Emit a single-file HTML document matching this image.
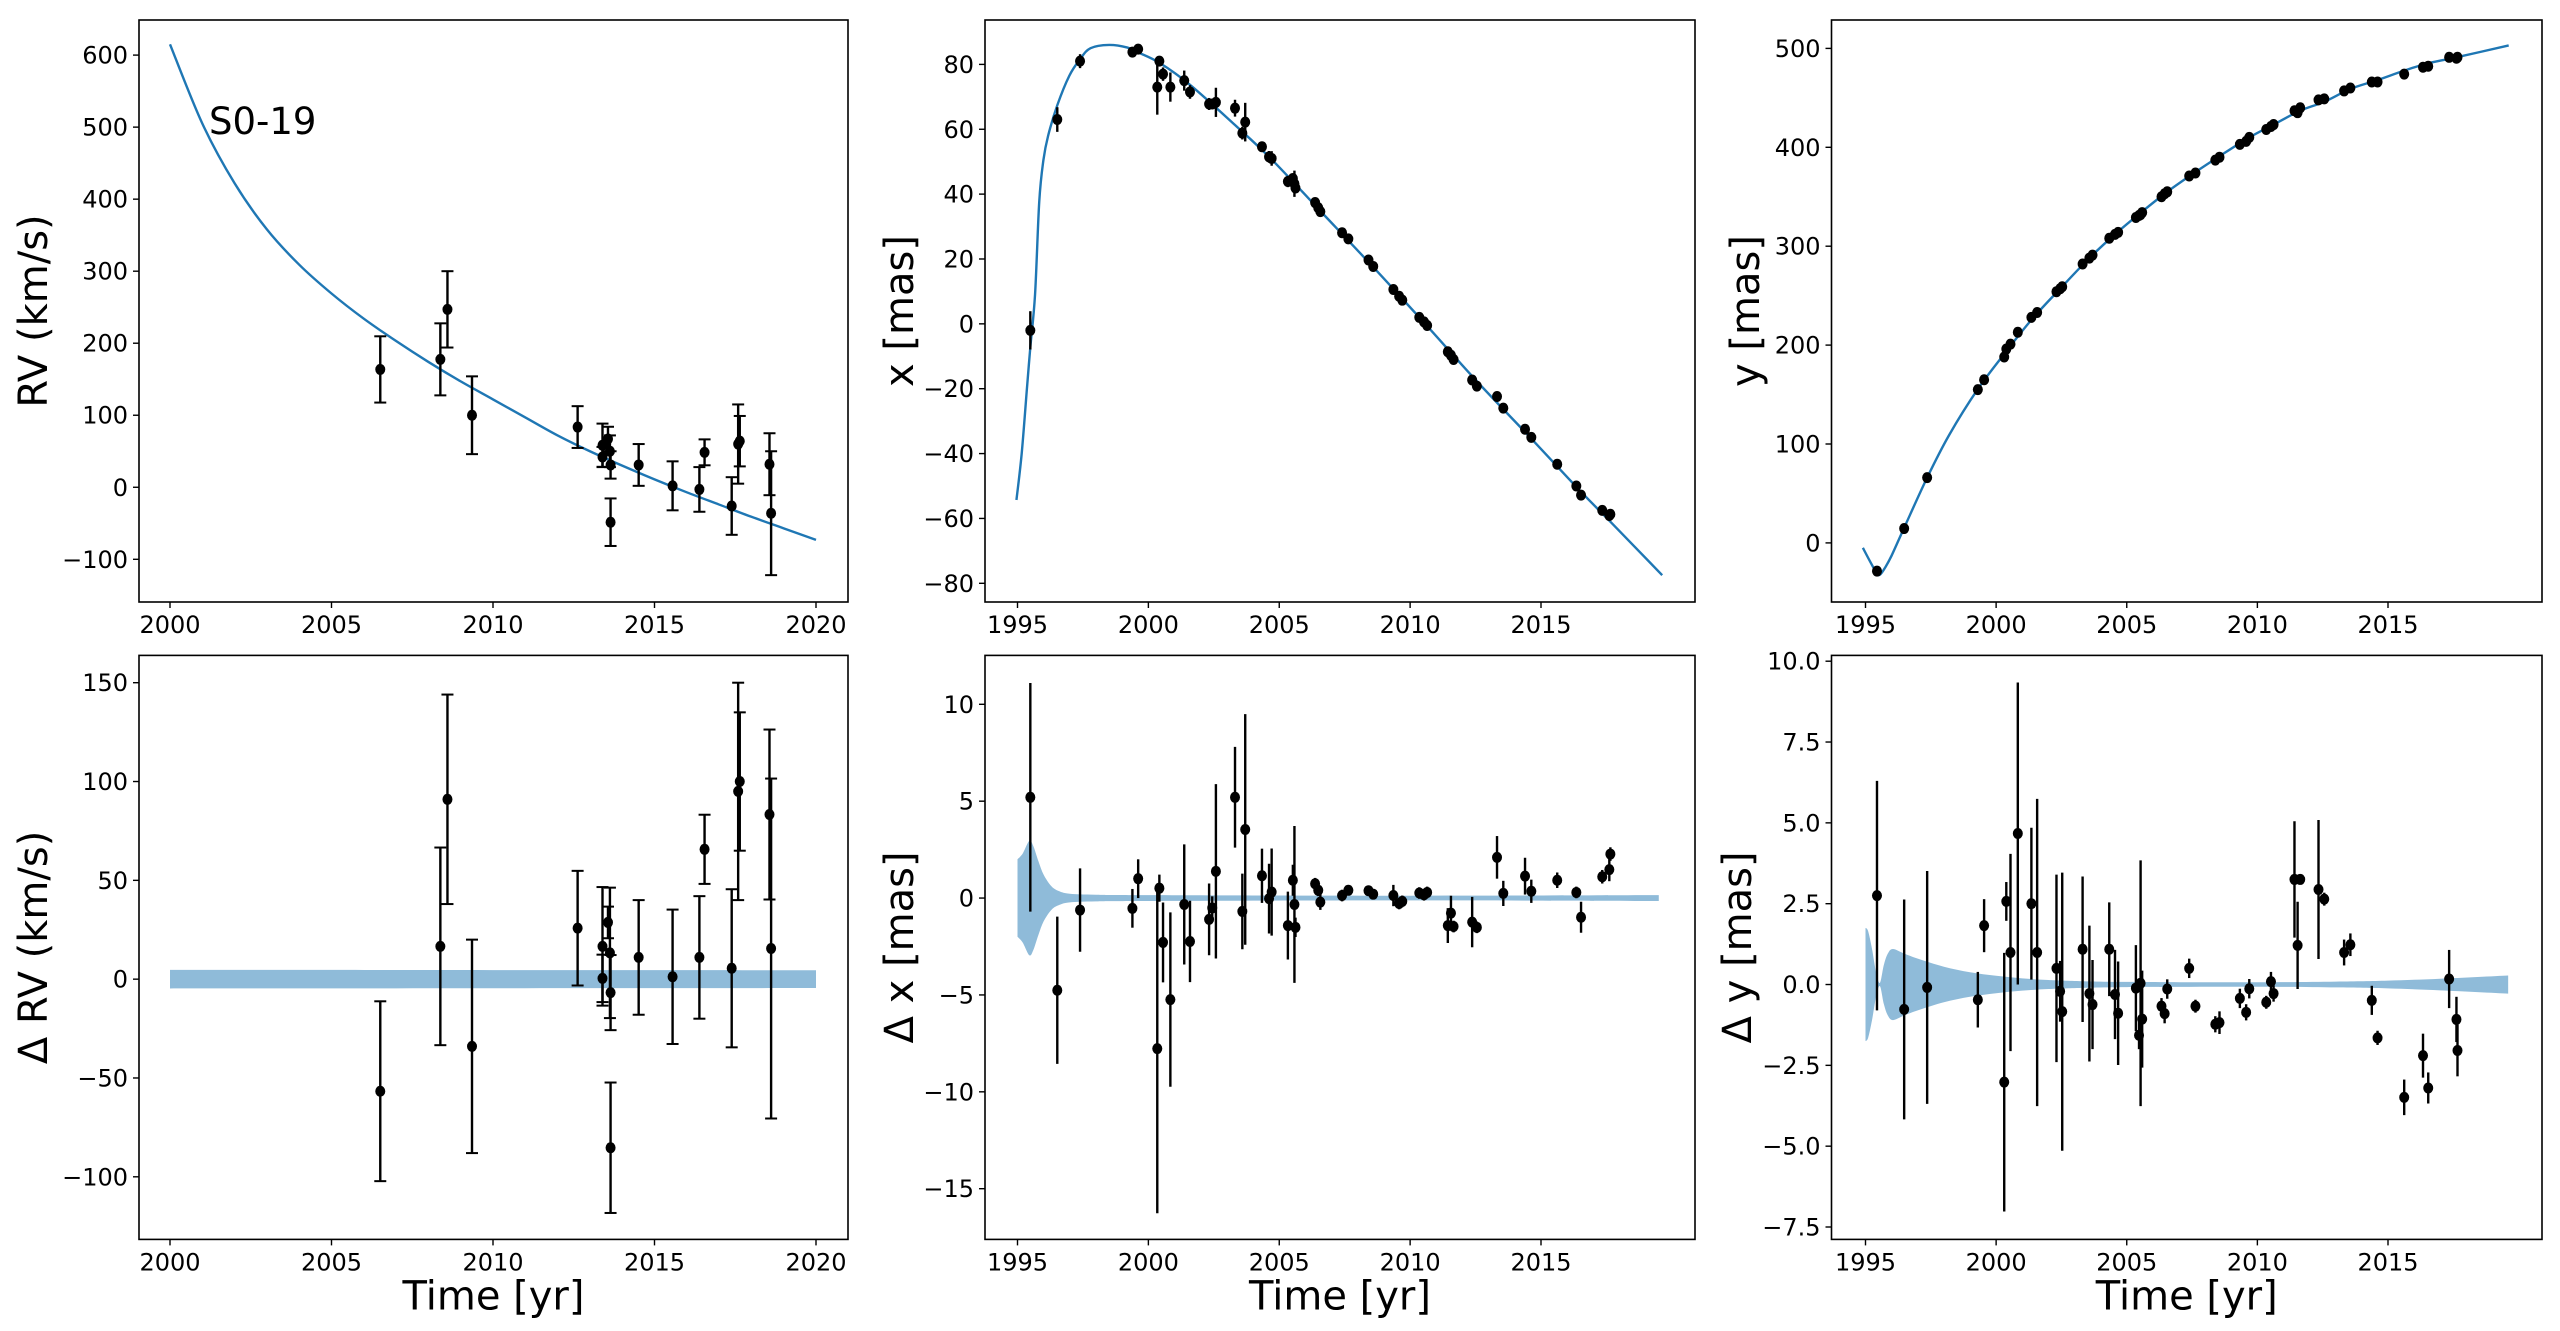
<!DOCTYPE html>
<html><head><meta charset="utf-8"><title>S0-19 orbit fit</title>
<style>
html,body{margin:0;padding:0;background:#fff;}
svg{display:block;}
text{font-family:"DejaVu Sans","Liberation Sans",sans-serif;fill:#000;}
</style></head>
<body>
<svg id="fig" width="2560" height="1331" viewBox="0 0 2560 1331" xmlns="http://www.w3.org/2000/svg">
<rect width="2560" height="1331" fill="#fff"/>
</svg>
<script>
// ---------- RV data ----------
const rvYears = [2006.51,2008.37,2008.59,2009.35,2012.62,2013.39,2013.39,2013.56,2013.62,2013.64,2013.64,2014.51,2015.56,2016.39,2016.55,2017.39,2017.59,2017.64,2018.56,2018.61];
const rvValues = [163.6,177.6,247,100,83.6,58.4,42,67,50,31,-48.5,31,2,-3,48.5,-26,60,64,32,-36];
const rvErrors = [46,50,53,54,29,30,14,17,22,19,33,29,34,31,18,40,55,35,43,86];
const rvResid = [-56.7,16.6,91,-34,25.8,16.6,0.4,28.7,13.3,-6.8,-85.3,11,1.2,11,65.7,5.5,95,100,83.3,15.5];
const rvResidErr = [45.5,50,53,54,29,30,12,8,33,19,33,29,34,31,17.5,40,55,35,43,86];
const rvModelYears = [2000,2001,2002,2003,2004,2005,2006,2007,2008,2009,2010,2011,2012,2013,2014,2015,2016,2017,2018,2019,2020];
const rvModelValues = [615,505,422,358,309,269,234,203,174,147,122,97,72,50,30,11,-7,-24,-41,-57,-73];
const rvBandYears = [2000,2020];
const rvBandHalf = [4.7,4.5];

// ---------- astrometry epochs ----------
const astYearsX = [1995.49,1996.52,1997.39,1999.39,1999.61,2000.34,2000.42,2000.56,2000.84,2001.37,2001.59,2002.32,2002.44,2002.58,2003.31,2003.59,2003.70,2004.34,2004.61,2004.71,2005.33,2005.52,2005.58,2005.62,2006.37,2006.49,2006.57,2007.40,2007.64,2008.41,2008.59,2009.36,2009.58,2009.70,2010.35,2010.53,2010.65,2011.44,2011.56,2011.66,2012.37,2012.55,2013.32,2013.56,2014.39,2014.63,2015.62,2016.35,2016.53,2017.34,2017.61,2017.65];
const xValues = [-2.0,63.0,81.0,83.8,84.7,73,81,77,73,75,71.5,67.8,67.8,68.3,66.5,58.8,62.2,54.6,51.5,51,43.9,44.8,43.2,41.9,37.4,35.8,34.6,28.1,26.2,19.7,17.7,10.6,8.5,7.3,2.0,0.6,-0.5,-8.6,-9.7,-11,-17.3,-19.2,-22.4,-26,-32.5,-35,-43.3,-50,-52.8,-57.5,-59.1,-58.7];
const xResid = [5.2,-4.76,-0.62,-0.53,1.0,-7.77,0.51,-2.29,-5.24,-0.33,-2.24,-1.1,-0.51,1.38,5.2,-0.69,3.54,1.15,-0.03,0.31,-1.42,0.92,-0.33,-1.51,0.74,0.4,-0.21,0.13,0.4,0.38,0.2,0.13,-0.28,-0.17,0.26,0.17,0.29,-1.42,-0.78,-1.47,-1.24,-1.51,2.1,0.24,1.13,0.35,0.92,0.29,-0.99,1.1,1.47,2.27];
const xErrors = [5.9,3.8,2.15,1,1,8.5,0.7,2.06,4.5,3.1,2.1,1.85,0.6,4.5,2.6,1.95,5.95,1.4,1.8,2.25,1.75,0.8,4.05,0.5,0.3,0.3,0.4,0.3,0.25,0.2,0.2,0.55,0.3,0.3,0.3,0.3,0.3,0.9,0.9,0.3,1.3,0.3,1.1,0.65,0.95,0.6,0.4,0.3,0.8,0.35,0.6,0.35];
const xModelYears = [1994.96,1995.16,1995.36,1995.49,1995.67,1995.83,1995.99,1996.17,1996.52,1996.98,1997.39,1997.79,1998.5,1999.2,1999.61,2000.42,2001.59,2003.31,2004.71,2006.57,2008.59,2010.53,2012.55,2014.63,2016.53,2017.65,2019.63];
const xModelValues = [-54.3,-40,-20,-7.2,9,37.6,50.5,58,67.4,76.5,81.6,85,86,85.2,83.7,80.5,73.7,61.3,50.7,34.8,17.5,0.4,-17.7,-35.4,-51.8,-61,-77.5];
const xBandYears = [1995,1995.2,1995.45,1995.6,1995.8,1996,1996.3,1996.6,1997,1998,2000,2010,2019.5];
const xBandHalf = [2.0,2.3,2.95,2.7,1.9,1.2,0.6,0.35,0.22,0.17,0.15,0.12,0.15];

const astYearsY = [1995.44,1996.48,1997.36,1999.30,1999.54,2000.31,2000.39,2000.55,2000.83,2001.35,2001.57,2002.31,2002.45,2002.53,2003.31,2003.57,2003.69,2004.33,2004.55,2004.67,2005.35,2005.47,2005.53,2005.59,2006.33,2006.45,2006.55,2007.39,2007.63,2008.39,2008.55,2009.33,2009.57,2009.69,2010.34,2010.52,2010.62,2011.42,2011.54,2011.64,2012.34,2012.56,2013.32,2013.56,2014.38,2014.60,2015.62,2016.34,2016.54,2017.34,2017.62,2017.66];
const yValues = [-28.5,14.5,66,155,165,188,196,201,213,228,233,254,257,259,282,288,291,308,312,314,329,331,332,334,350,353,355,371,374,387,390,403,406,410,418,421,423,437,435,440,448,449,457,460,466,466,474,481,482,491,490,491];
const yResid = [2.75,-0.77,-0.09,-0.47,1.82,-3.02,2.57,0.99,4.67,2.5,0.99,0.5,-0.21,-0.84,1.09,-0.28,-0.62,1.09,-0.31,-0.89,-0.11,-1.57,0.04,-1.07,-0.67,-0.9,-0.14,0.5,-0.67,-1.23,-1.18,-0.43,-0.86,-0.13,-0.55,0.09,-0.28,3.25,1.21,3.25,2.94,2.64,0.99,1.23,-0.49,-1.65,-3.49,-2.2,-3.2,0.17,-1.08,-2.04];
const yErrors = [3.55,3.4,3.6,0.86,0.82,4.0,0.6,3.05,4.67,2.35,4.75,2.9,0.94,4.3,2.25,2.1,1.38,1.45,1.38,1.6,1.33,0.43,3.8,1.5,0.25,0.3,0.3,0.3,0.2,0.25,0.35,0.3,0.25,0.3,0.2,0.3,0.25,1.8,1.35,0.15,2.15,0.2,0.4,0.35,0.45,0.22,0.55,0.68,0.48,0.9,0.7,0.8];
const yModelYears = [1994.9,1995.2,1995.44,1995.56,1995.75,1996.0,1996.48,1997.36,1998.2,1999.30,2000.31,2001.35,2002.45,2003.57,2004.55,2005.59,2006.55,2007.63,2008.55,2009.69,2010.62,2011.64,2012.56,2013.56,2014.60,2015.62,2016.54,2017.62,2019.62];
const yModelValues = [-5,-20,-31,-32,-25,-12.8,15.3,66,109,155.5,191,225.5,257,288,312,335,355,375,391,410,423,437,446,459,468,477.5,485,491,503];
const yBandYears = [1995,1995.1,1995.25,1995.4,1995.55,1995.7,1995.85,1996.05,1996.5,1997,1998,1999,2000,2001,2002,2003,2005,2010,2013,2015,2017,2019.6];
const yBandHalf = [1.75,1.65,1.1,0.4,0.05,0.6,0.95,1.1,0.95,0.8,0.55,0.38,0.27,0.19,0.14,0.11,0.08,0.07,0.09,0.12,0.18,0.28];

const ticksYearA = [2000,2005,2010,2015,2020];
const ticksYearB = [1995,2000,2005,2010,2015];
const ticksRV = [-100,0,100,200,300,400,500,600];
const ticksX = [-80,-60,-40,-20,0,20,40,60,80];
const ticksY = [0,100,200,300,400,500];
const ticksDRV = [-100,-50,0,50,100,150];
const ticksDX = [-15,-10,-5,0,5,10];
const ticksDY = [-7.5,-5,-2.5,0,2.5,5,7.5,10];

const NS = "http://www.w3.org/2000/svg";
const svg = document.getElementById('fig');
const BLUE = "#1f77b4", BAND = "#8fbbd9";

function mk(tag, attrs, parent){
  const e = document.createElementNS(NS, tag);
  for (const k in attrs) e.setAttribute(k, attrs[k]);
  (parent||svg).appendChild(e);
  return e;
}
function lin(v0,p0,v1,p1){ return v => p0 + (v - v0) * (p1 - p0) / (v1 - v0); }
function fmt(v, dec){ const s = dec ? v.toFixed(1) : String(v); return s.replace('-', '\u2212'); }
function smoothPath(pts){
  let d = "M" + pts[0][0].toFixed(2) + "," + pts[0][1].toFixed(2);
  for (let i = 0; i < pts.length - 1; i++){
    const p0 = pts[Math.max(0,i-1)], p1 = pts[i], p2 = pts[i+1], p3 = pts[Math.min(pts.length-1,i+2)];
    const c1x = p1[0] + (p2[0]-p0[0])/6, c1y = p1[1] + (p2[1]-p0[1])/6;
    const c2x = p2[0] - (p3[0]-p1[0])/6, c2y = p2[1] - (p3[1]-p1[1])/6;
    d += " C" + c1x.toFixed(2) + "," + c1y.toFixed(2) + " " + c2x.toFixed(2) + "," + c2y.toFixed(2) + " " + p2[0].toFixed(2) + "," + p2[1].toFixed(2);
  }
  return d;
}

function panel(cfg){
  const g = mk('g', {});
  
  
  const sx = lin.apply(null, cfg.xa), sy = lin.apply(null, cfg.ya);
  if (cfg.band){
    const [by, bh] = cfg.band;
    const top = by.map((t,i)=>[sx(t), sy(bh[i])]);
    const bot = by.map((t,i)=>[sx(t), sy(-bh[i])]).reverse();
    const d = smoothPath(top) + " L" + bot[0][0] + "," + bot[0][1] + smoothPath(bot).replace(/^M[^C]*/, ' ') + " Z";
    const b = mk('path', {d: d, fill: BAND, stroke: 'none'}, g);
    
    
  }
  if (cfg.model){
    const [my, mv] = cfg.model;
    const c = mk('path', {d: smoothPath(my.map((t,i)=>[sx(t), sy(mv[i])])), fill:'none', stroke: BLUE, 'stroke-width': 2.4}, g);
    
    
  }
  const [py, pv, pe] = cfg.points;
  py.forEach((t,i)=>{
    const x = sx(t), y = sy(pv[i]);
    const ya = sy(pv[i] + pe[i]), yb = sy(pv[i] - pe[i]);
    const eb = mk('line', {x1:x, x2:x, y1:ya, y2:yb, stroke:'#000', 'stroke-width': 2.4}, g);
    
    
    if (cfg.caps){
      mk('line', {x1:x-6, x2:x+6, y1:ya, y2:ya, stroke:'#000', 'stroke-width': 2}, g);
      mk('line', {x1:x-6, x2:x+6, y1:yb, y2:yb, stroke:'#000', 'stroke-width': 2}, g);
    }
    const dot = mk('ellipse', {cx:x, cy:y, rx:5, ry:5.5, fill:'#000'}, g);
    
    
  });
  const fr = mk('rect', {x:cfg.L, y:cfg.T, width:cfg.R-cfg.L, height:cfg.B-cfg.T, fill:'none', stroke:'#000', 'stroke-width':1.6}, g);
  
  
  cfg.xt.forEach(v=>{
    const x = sx(v);
    mk('line', {x1:x, x2:x, y1:cfg.B, y2:cfg.B+6, stroke:'#000', 'stroke-width':1.4}, g);
    const tl = mk('text', {x:x, y:cfg.B+31, 'text-anchor':'middle', 'font-size':24}, g);
    tl.textContent = fmt(v);
    
    
  });
  cfg.yt.forEach(v=>{
    const y = sy(v);
    mk('line', {x1:cfg.L-6, x2:cfg.L, y1:y, y2:y, stroke:'#000', 'stroke-width':1.4}, g);
    const tl = mk('text', {x:cfg.L-11, y:y+8.5, 'text-anchor':'end', 'font-size':24}, g);
    tl.textContent = fmt(v, cfg.ydec);
    
    
  });
  const yl = mk('text', {x:0, y:0, 'text-anchor':'middle', 'font-size':40, transform:'translate(' + (cfg.ylx+15) + ',' + ((cfg.T+cfg.B)/2) + ') rotate(-90)'}, g);
  yl.textContent = cfg.ylabel;
  
  
  if (cfg.xlabel){
    const xl = mk('text', {x:(cfg.L+cfg.R)/2, y:cfg.B+70, 'text-anchor':'middle', 'font-size':40}, g);
    xl.textContent = cfg.xlabel;
    
    
  }
  return {g, sx, sy};
}

const colL = [139, 848], colM = [985, 1695], colR = [1831.5, 2542];
const rowT = [20, 602], rowB = [655.4, 1239.4];
const xaA = [2000,170,2020,816], xaB = [1995,1017.5,2015,1541], xaC = [1995,1865.5,2015,2388];

const p1 = panel({name:'rv-panel', L:colL[0], R:colL[1], T:rowT[0], B:rowT[1], xa:xaA, ya:[600,55.1,-100,559.3],
  xt:ticksYearA, yt:ticksRV, ylabel:'RV (km/s)', ylx:32, caps:true,
  model:[rvModelYears, rvModelValues], points:[rvYears, rvValues, rvErrors]});
const lab = mk('text', {x:209, y:134, 'font-size':37}, p1.g);
lab.textContent = 'S0-19';



panel({name:'x-panel', L:colM[0], R:colM[1], T:rowT[0], B:rowT[1], xa:xaB, ya:[80,64.4,-80,583.3],
  xt:ticksYearB, yt:ticksX, ylabel:'x [mas]', ylx:898, caps:false,
  model:[xModelYears, xModelValues], points:[astYearsX, xValues, xErrors]});

panel({name:'y-panel', L:colR[0], R:colR[1], T:rowT[0], B:rowT[1], xa:xaC, ya:[500,48.4,0,542.9],
  xt:ticksYearB, yt:ticksY, ylabel:'y [mas]', ylx:1744, caps:false,
  model:[yModelYears, yModelValues], points:[astYearsY, yValues, yErrors]});

panel({name:'rv-residual-panel', L:colL[0], R:colL[1], T:rowB[0], B:rowB[1], xa:xaA, ya:[150,682.7,-100,1176.8],
  xt:ticksYearA, yt:ticksDRV, ylabel:'\u0394 RV (km/s)', ylx:32, caps:true, xlabel:'Time [yr]',
  band:[rvBandYears, rvBandHalf], points:[rvYears, rvResid, rvResidErr]});

panel({name:'x-residual-panel', L:colM[0], R:colM[1], T:rowB[0], B:rowB[1], xa:xaB, ya:[10,704.3,-15,1188.7],
  xt:ticksYearB, yt:ticksDX, ylabel:'\u0394 x [mas]', ylx:898, caps:false, xlabel:'Time [yr]',
  band:[xBandYears, xBandHalf], points:[astYearsX, xResid, xErrors]});

panel({name:'y-residual-panel', L:colR[0], R:colR[1], T:rowB[0], B:rowB[1], xa:xaC, ya:[10,661.2,-7.5,1227],
  xt:ticksYearB, yt:ticksDY, ydec:true, ylabel:'\u0394 y [mas]', ylx:1736, caps:false, xlabel:'Time [yr]',
  band:[yBandYears, yBandHalf], points:[astYearsY, yResid, yErrors]});
</script>
</body></html>
